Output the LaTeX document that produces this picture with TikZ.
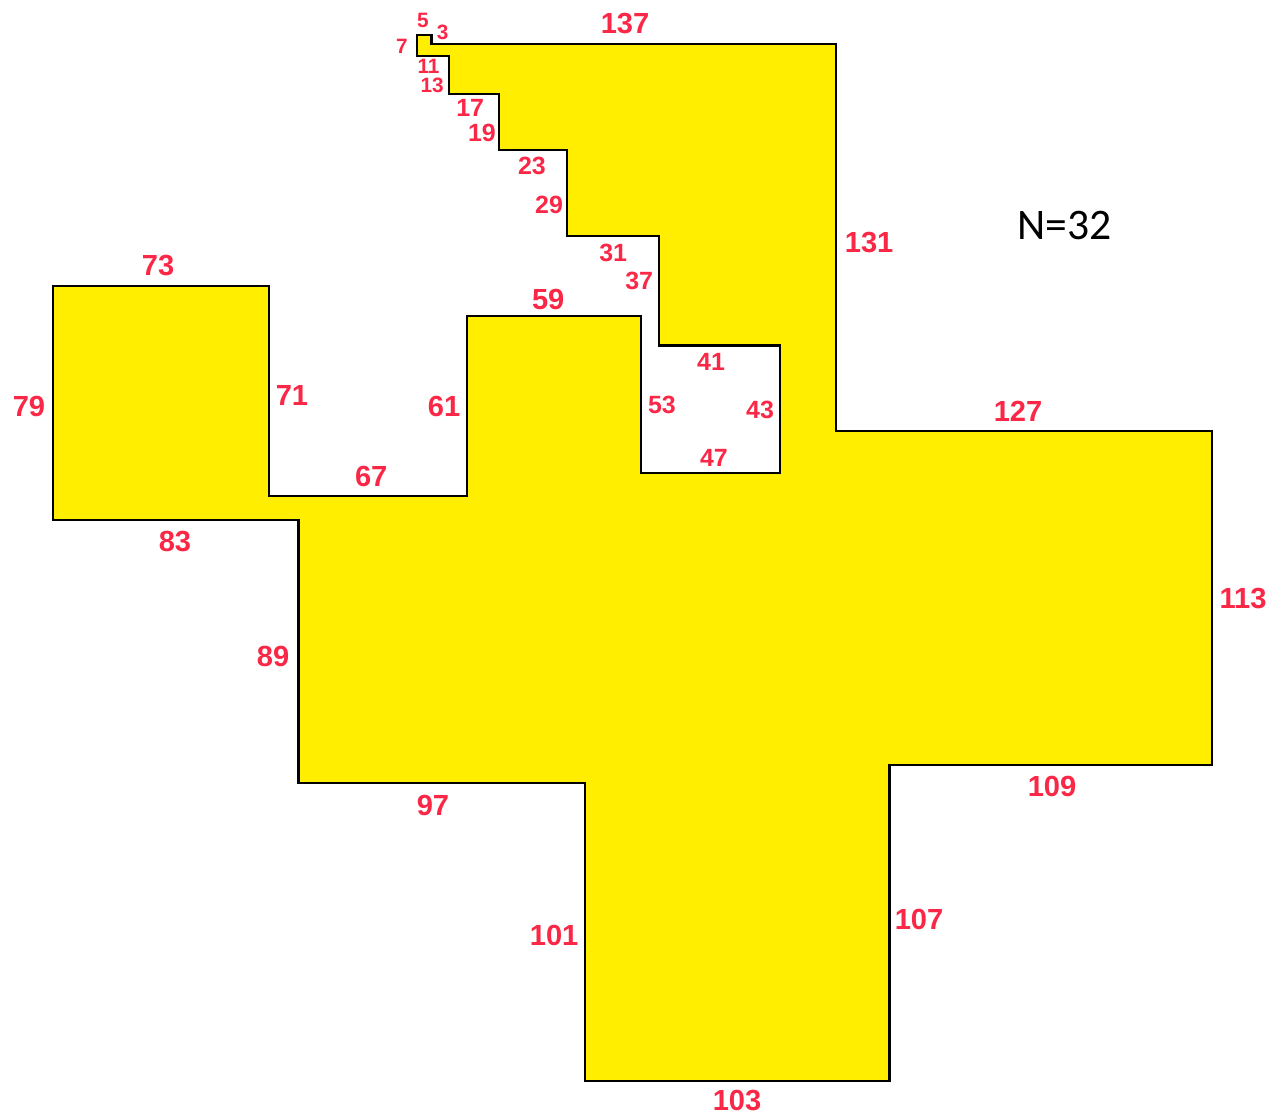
\documentclass[tikz,border=0pt]{standalone}
\usepackage{fontspec}
\setmainfont{Liberation Sans}
\newfontfamily\carlito{Carlito}
\usepackage{tikz}
\definecolor{polyyellow}{RGB}{255,238,0}
\definecolor{labelred}{RGB}{250,40,70}
\tikzset{
    side/.style={text=labelred, font=\fontsize{28}{30}\selectfont\bfseries, inner sep=0pt},
    sidesmall/.style={side, font=\fontsize{24}{26}\selectfont\bfseries},
    sidetiny/.style={side, font=\fontsize{20}{22}\selectfont\bfseries}
}

\begin{document}
\begin{tikzpicture}[x=1mm, y=1mm]
    \useasboundingbox (-146,-363.8) rectangle (285.1,14.9);

    % The polygon, sides 3, 5, ..., 137
    \draw[line width=2pt, fill=polyyellow, line join=miter] (0,0)
        -- ++(137,0) -- ++(0,-131) -- ++(127,0) -- ++(0,-113)
        -- ++(-109,0) -- ++(0,-107) -- ++(-103,0) -- ++(0,101)
        -- ++(-97,0) -- ++(0,89) -- ++(-83,0) -- ++(0,79)
        -- ++(73,0) -- ++(0,-71) -- ++(67,0) -- ++(0,61)
        -- ++(59,0) -- ++(0,-53) -- ++(47,0) -- ++(0,43)
        -- ++(-41,0) -- ++(0,37) -- ++(-31,0) -- ++(0,29)
        -- ++(-23,0) -- ++(0,19) -- ++(-17,0) -- ++(0,13)
        -- ++(-11,0) -- ++(0,7) -- ++(5,0) -- cycle;

    % Side lengths
    \foreach \p/\x/\y in {137/65.5/6.8, 131/148.1/-67.3, 127/198.5/-124.2,
        113/274.6/-187.5, 109/210.0/-251.1, 107/165.0/-296.4, 103/103.4/-357.4,
        101/41.5/-301.5, 97/0.5/-257.5, 89/-53.6/-207.4, 83/-86.8/-168.2,
        79/-136.2/-122.5, 73/-92.5/-74.8, 71/-47.2/-118.8, 67/-20.4/-146.5,
        61/4.3/-122.5, 59/39.5/-86.3}
        \node[side] (l\p) at (\x,\y) {\p};
    \foreach \p/\x/\y in {53/78.0/-122.2, 47/95.6/-140.1, 43/111.2/-123.9,
        41/94.6/-107.6, 37/70.3/-80.2, 31/61.5/-70.7, 29/39.8/-54.5,
        23/34.0/-41.3, 19/17.1/-30.1, 17/13.1/-21.7}
        \node[sidesmall] (l\p) at (\x,\y) {\p};
    \foreach \p/\x/\y in {13/0.2/-13.9, 11/-1.0/-7.4, 7/-10.0/-0.9,
        5/-2.9/7.9, 3/3.8/3.9}
        \node[sidetiny] (l\p) at (\x,\y) {\p};

    % Number of sides
    \node[font=\carlito\fontsize{42}{44}\selectfont, inner sep=0pt] (count) at (214.1,-61.3) {N=32};
\end{tikzpicture}
\end{document}
